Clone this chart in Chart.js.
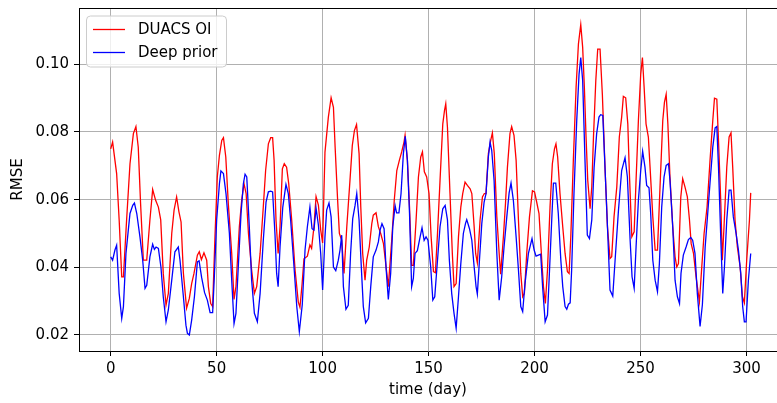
<!DOCTYPE html>
<html>
<head>
<meta charset="utf-8">
<script src="https://cdn.jsdelivr.net/npm/chart.js@4.4.1/dist/chart.umd.min.js"></script>
<style>
    html, body { margin: 0; padding: 0; background: #ffffff; }
    #wrap { width: 777px; height: 403px; }
</style>
</head>
<body>
<div id="wrap"><canvas id="rmse-chart" width="777" height="403"></canvas></div>
<script>
// RMSE per day, DUACS OI
var duacsDays = [0, 0.9, 2.8, 4.0, 5.2, 6.0, 7.5, 9.1, 10.7, 11.9, 13.0, 14.1, 15.4, 17.0, 18.5, 19.8, 21.2, 22.5, 23.6, 24.8,
    26.1, 27.2, 28.8, 29.9, 31.1, 32.2, 33.2, 34.3, 35.8, 37.1, 38.2, 39.3, 40.9, 41.8, 42.8, 44.0, 45.3, 46.1, 47.2, 48.1,
    49.2, 50.3, 51.3, 52.4, 53.2, 54.3, 55.5, 57.1, 58.2, 59.1, 60.7, 61.8, 62.9, 63.9, 65.0, 66.5, 67.8, 68.9, 70.5, 72.0,
    73.1, 74.4, 75.5, 76.4, 77.1, 78.0, 79.0, 79.9, 81.0, 81.9, 83.0, 84.0, 85.4, 87.0, 88.5, 89.3, 90.3, 91.2, 92.8, 94.0,
    94.8, 95.9, 96.9, 98.0, 99.1, 100.0, 101.1, 102.7, 104.0, 105.1, 105.9, 107.0, 107.9, 109.0, 110.1, 111.4, 112.9, 114.0, 115.0, 116.0,
    117.2, 118.0, 118.9, 120.0, 120.8, 122.0, 123.2, 123.9, 125.2, 126.3, 127.4, 128.7, 131.0, 132.6, 133.8, 135.0, 136.2, 137.3, 138.4, 138.9,
    140.0, 141.0, 142.0, 142.8, 144.1, 145.2, 146.3, 147.1, 148.0, 149.1, 150.2, 151.2, 152.3, 153.2, 154.2, 155.4, 156.7, 157.5, 158.1, 158.9,
    160.1, 161.2, 162.0, 163.0, 164.1, 165.2, 166.1, 167.2, 168.3, 169.6, 170.4, 171.5, 172.2, 173.0, 174.3, 175.4, 176.3, 177.1, 178.2, 179.3,
    180.1, 181.0, 182.2, 183.3, 184.0, 185.3, 186.3, 187.2, 188.4, 189.2, 190.3, 191.3, 192.4, 193.5, 194.4, 195.2, 196.3, 197.6, 199.0, 200.0,
    201.0, 202.1, 203.4, 204.2, 205.1, 206.1, 207.3, 208.4, 209.4, 210.1, 210.9, 212.0, 213.3, 214.4, 215.5, 216.3, 217.1, 218.3, 219.6, 220.7,
    221.8, 222.7, 223.5, 224.3, 225.1, 226.2, 227.0, 227.8, 228.9, 229.8, 230.9, 232.0, 233.3, 234.4, 235.6, 236.4, 237.5, 238.8, 240.0, 241.1,
    241.9, 243.0, 244.0, 244.7, 245.9, 247.0, 247.9, 249.0, 250.1, 250.9, 251.7, 252.6, 253.7, 254.5, 255.8, 256.9, 258.0, 259.2, 260.5, 261.3,
    262.1, 262.9, 263.9, 265.2, 266.3, 267.1, 267.9, 269.0, 269.9, 271.0, 272.1, 273.1, 273.9, 275.0, 276.2, 277.8, 278.9, 280.0, 281.4, 282.8,
    284.1, 284.9, 286.0, 286.8, 287.9, 288.6, 289.4, 290.7, 291.8, 292.7, 293.5, 294.6, 295.7, 297.0, 298.1, 299.0, 300.1, 301.4, 302.0];
var duacsRmse = [0.0750, 0.0770, 0.0677, 0.0539, 0.0372, 0.0372, 0.0540, 0.0706, 0.0795, 0.0816, 0.0755, 0.0588, 0.0421, 0.0421, 0.0540, 0.0630, 0.0598, 0.0578, 0.0540, 0.0382,
    0.0288, 0.0323, 0.0500, 0.0569, 0.0608, 0.0564, 0.0534, 0.0382, 0.0279, 0.0308, 0.0352, 0.0382, 0.0436, 0.0446, 0.0423, 0.0443, 0.0421, 0.0343, 0.0293, 0.0284,
    0.0490, 0.0667, 0.0731, 0.0775, 0.0783, 0.0726, 0.0588, 0.0441, 0.0305, 0.0343, 0.0520, 0.0598, 0.0647, 0.0618, 0.0500, 0.0392, 0.0323, 0.0343, 0.0441, 0.0578,
    0.0686, 0.0765, 0.0783, 0.0783, 0.0716, 0.0540, 0.0441, 0.0520, 0.0691, 0.0706, 0.0696, 0.0647, 0.0540, 0.0392, 0.0298, 0.0282, 0.0350, 0.0425, 0.0433, 0.0466,
    0.0456, 0.0520, 0.0609, 0.0584, 0.0510, 0.0472, 0.0740, 0.0844, 0.0901, 0.0873, 0.0755, 0.0608, 0.0500, 0.0480, 0.0382, 0.0520, 0.0657, 0.0760, 0.0804, 0.0822,
    0.0736, 0.0578, 0.0441, 0.0362, 0.0421, 0.0460, 0.0529, 0.0554, 0.0561, 0.0520, 0.0500, 0.0470, 0.0343, 0.0480, 0.0598, 0.0686, 0.0716, 0.0741, 0.0770, 0.0790,
    0.0716, 0.0578, 0.0406, 0.0406, 0.0540, 0.0667, 0.0726, 0.0741, 0.0682, 0.0667, 0.0618, 0.0490, 0.0387, 0.0384, 0.0500, 0.0657, 0.0824, 0.0863, 0.0883, 0.0814,
    0.0618, 0.0441, 0.0343, 0.0352, 0.0490, 0.0578, 0.0618, 0.0652, 0.0642, 0.0632, 0.0618, 0.0520, 0.0441, 0.0413, 0.0540, 0.0608, 0.0618, 0.0618, 0.0736, 0.0775,
    0.0797, 0.0736, 0.0549, 0.0441, 0.0380, 0.0490, 0.0590, 0.0696, 0.0795, 0.0816, 0.0790, 0.0716, 0.0540, 0.0382, 0.0313, 0.0323, 0.0441, 0.0549, 0.0626, 0.0623,
    0.0593, 0.0559, 0.0421, 0.0343, 0.0293, 0.0392, 0.0578, 0.0706, 0.0750, 0.0765, 0.0726, 0.0618, 0.0520, 0.0441, 0.0387, 0.0382, 0.0490, 0.0716, 0.0932, 0.1060,
    0.1117, 0.1050, 0.0932, 0.0785, 0.0657, 0.0573, 0.0637, 0.0785, 0.0952, 0.1045, 0.1045, 0.0910, 0.0686, 0.0520, 0.0426, 0.0431, 0.0549, 0.0637, 0.0785, 0.0844,
    0.0905, 0.0901, 0.0824, 0.0686, 0.0490, 0.0505, 0.0657, 0.0834, 0.0971, 0.1020, 0.0932, 0.0824, 0.0785, 0.0696, 0.0549, 0.0451, 0.0451, 0.0637, 0.0834, 0.0888,
    0.0911, 0.0824, 0.0667, 0.0520, 0.0431, 0.0401, 0.0411, 0.0608, 0.0662, 0.0637, 0.0608, 0.0540, 0.0470, 0.0441, 0.0372, 0.0298, 0.0401, 0.0500, 0.0578, 0.0716,
    0.0834, 0.0900, 0.0897, 0.0775, 0.0588, 0.0421, 0.0520, 0.0696, 0.0785, 0.0797, 0.0696, 0.0540, 0.0460, 0.0401, 0.0313, 0.0295, 0.0421, 0.0540, 0.0620];

// RMSE per day, Deep prior
var priorDays = [0, 0.9, 2.0, 2.8, 4.0, 5.2, 6.0, 7.2, 9.1, 10.4, 11.2, 12.3, 13.8, 15.1, 16.2, 17.0, 18.5, 19.8, 20.6, 21.4,
    22.5, 23.7, 24.8, 26.1, 27.2, 28.8, 30.3, 31.9, 32.7, 34.3, 35.5, 36.2, 37.1, 38.2, 39.5, 40.9, 41.7, 42.9, 44.3, 45.6,
    46.9, 48.1, 48.9, 50.0, 51.3, 52.0, 53.2, 54.4, 56.0, 57.1, 58.2, 59.1, 60.2, 61.5, 62.6, 63.4, 64.2, 65.4, 66.5, 67.8,
    69.2, 70.5, 72.0, 73.3, 74.4, 75.5, 76.4, 77.5, 78.3, 79.0, 79.9, 81.2, 82.7, 83.8, 84.9, 86.5, 87.8, 89.0, 90.4, 91.7,
    92.8, 94.0, 95.0, 95.9, 96.9, 98.0, 99.1, 100.0, 101.1, 101.9, 103.0, 104.0, 105.1, 106.2, 107.4, 108.2, 109.0, 109.8, 111.0, 112.1,
    113.2, 114.2, 115.3, 116.1, 117.2, 118.4, 119.2, 120.3, 121.6, 122.7, 123.9, 125.2, 126.3, 127.1, 128.0, 129.0, 129.9, 131.0, 132.1, 133.1,
    134.2, 134.9, 136.0, 137.0, 138.1, 139.0, 140.0, 141.0, 142.0, 142.8, 143.6, 144.7, 146.0, 146.9, 147.9, 148.8, 149.7, 151.0, 152.0, 152.9,
    154.2, 155.4, 156.7, 157.8, 158.9, 159.8, 160.9, 162.0, 163.0, 164.1, 165.2, 166.4, 167.4, 168.0, 169.3, 170.4, 171.5, 172.4, 173.0, 174.0,
    175.1, 176.2, 177.1, 178.2, 179.0, 179.8, 180.9, 182.2, 183.3, 184.5, 185.6, 186.9, 188.0, 188.9, 190.0, 191.3, 192.4, 193.5, 194.4, 195.5,
    197.1, 198.8, 199.8, 200.7, 201.8, 202.9, 203.8, 205.0, 206.1, 207.0, 208.1, 208.9, 210.0, 211.2, 212.4, 213.3, 214.4, 215.2, 216.0, 216.8,
    217.5, 218.6, 219.9, 221.0, 221.8, 222.7, 223.8, 224.9, 225.9, 227.0, 228.1, 229.3, 230.4, 231.2, 232.2, 233.3, 234.4, 235.6, 236.9, 238.0,
    239.6, 241.1, 242.7, 243.8, 245.1, 246.0, 247.0, 247.9, 249.0, 250.1, 251.0, 252.1, 252.9, 254.0, 254.8, 255.8, 256.9, 258.0, 258.9, 260.0,
    261.1, 262.1, 263.2, 263.9, 265.2, 266.3, 267.4, 268.4, 269.1, 270.2, 271.5, 272.6, 273.7, 274.6, 275.7, 276.8, 278.1, 279.2, 280.5, 281.6,
    282.8, 284.1, 285.2, 286.0, 286.8, 287.9, 288.8, 289.6, 290.7, 291.8, 292.7, 293.8, 295.1, 296.2, 297.3, 298.2, 299.0, 299.8, 300.9, 302.0];
var priorRmse = [0.0431, 0.0421, 0.0451, 0.0465, 0.0323, 0.0249, 0.0284, 0.0441, 0.0559, 0.0583, 0.0590, 0.0559, 0.0490, 0.0421, 0.0338, 0.0347, 0.0431, 0.0468, 0.0453, 0.0460,
    0.0456, 0.0401, 0.0313, 0.0239, 0.0274, 0.0362, 0.0446, 0.0460, 0.0421, 0.0313, 0.0229, 0.0205, 0.0200, 0.0244, 0.0313, 0.0416, 0.0419, 0.0370, 0.0325, 0.0303,
    0.0266, 0.0266, 0.0372, 0.0540, 0.0647, 0.0685, 0.0677, 0.0618, 0.0500, 0.0362, 0.0234, 0.0264, 0.0401, 0.0559, 0.0647, 0.0675, 0.0667, 0.0520, 0.0362, 0.0264,
    0.0239, 0.0323, 0.0480, 0.0593, 0.0623, 0.0625, 0.0623, 0.0500, 0.0382, 0.0343, 0.0460, 0.0578, 0.0645, 0.0618, 0.0540, 0.0401, 0.0284, 0.0210, 0.0290, 0.0451,
    0.0520, 0.0578, 0.0514, 0.0510, 0.0575, 0.0525, 0.0440, 0.0333, 0.0490, 0.0569, 0.0590, 0.0549, 0.0401, 0.0390, 0.0421, 0.0451, 0.0495, 0.0343, 0.0276, 0.0288,
    0.0441, 0.0544, 0.0583, 0.0618, 0.0540, 0.0382, 0.0284, 0.0236, 0.0249, 0.0343, 0.0431, 0.0451, 0.0475, 0.0510, 0.0529, 0.0514, 0.0401, 0.0305, 0.0382, 0.0520,
    0.0582, 0.0561, 0.0561, 0.0618, 0.0736, 0.0787, 0.0716, 0.0559, 0.0343, 0.0367, 0.0441, 0.0449, 0.0490, 0.0517, 0.0480, 0.0490, 0.0480, 0.0401, 0.0303, 0.0313,
    0.0421, 0.0520, 0.0573, 0.0583, 0.0540, 0.0421, 0.0323, 0.0264, 0.0220, 0.0313, 0.0411, 0.0500, 0.0529, 0.0541, 0.0514, 0.0480, 0.0401, 0.0343, 0.0321, 0.0421,
    0.0529, 0.0593, 0.0618, 0.0726, 0.0770, 0.0745, 0.0657, 0.0441, 0.0303, 0.0372, 0.0460, 0.0549, 0.0620, 0.0649, 0.0598, 0.0490, 0.0392, 0.0284, 0.0269, 0.0352,
    0.0441, 0.0485, 0.0451, 0.0433, 0.0436, 0.0439, 0.0343, 0.0239, 0.0259, 0.0382, 0.0540, 0.0649, 0.0649, 0.0559, 0.0421, 0.0343, 0.0284, 0.0276, 0.0291, 0.0295,
    0.0392, 0.0618, 0.0834, 0.0971, 0.1020, 0.0952, 0.0716, 0.0495, 0.0485, 0.0540, 0.0696, 0.0795, 0.0844, 0.0851, 0.0849, 0.0686, 0.0520, 0.0333, 0.0315, 0.0421,
    0.0569, 0.0686, 0.0724, 0.0667, 0.0480, 0.0372, 0.0338, 0.0460, 0.0598, 0.0686, 0.0743, 0.0696, 0.0642, 0.0635, 0.0559, 0.0421, 0.0362, 0.0328, 0.0411, 0.0578,
    0.0667, 0.0701, 0.0706, 0.0657, 0.0520, 0.0362, 0.0313, 0.0293, 0.0382, 0.0436, 0.0460, 0.0482, 0.0488, 0.0480, 0.0441, 0.0323, 0.0225, 0.0290, 0.0460, 0.0550,
    0.0650, 0.0755, 0.0812, 0.0816, 0.0696, 0.0480, 0.0323, 0.0401, 0.0540, 0.0628, 0.0628, 0.0549, 0.0500, 0.0451, 0.0382, 0.0284, 0.0239, 0.0239, 0.0362, 0.0441];

var xTicks = [0, 50, 100, 150, 200, 250, 300];
var yTicks = [0.02, 0.04, 0.06, 0.08, 0.10];

function toPoints(days, values) {
    return days.map(function(d, i) {
        return { x: d, y: values[i] };
    });
}

(function() {
    'use strict';

    var FONT = 'DejaVu Sans';
    Chart.defaults.font.family = FONT;
    Chart.defaults.font.size = 15;
    Chart.defaults.color = '#000000';

    // Top frame line and the boxed legend in the upper left corner
    var framePlugin = {
        id: 'frameAndLegend',
        afterDraw: function(chart) {
            var ctx = chart.ctx;
            var area = chart.chartArea;

            ctx.save();
            ctx.strokeStyle = '#000000';
            ctx.lineWidth = 1;
            ctx.beginPath();
            ctx.moveTo(area.left, area.top + 0.5);
            ctx.lineTo(area.right, area.top + 0.5);
            ctx.stroke();

            // legend box
            var bx = 86.5, by = 16, bw = 140, bh = 51, r = 4;
            ctx.beginPath();
            ctx.moveTo(bx + r, by);
            ctx.arcTo(bx + bw, by, bx + bw, by + bh, r);
            ctx.arcTo(bx + bw, by + bh, bx, by + bh, r);
            ctx.arcTo(bx, by + bh, bx, by, r);
            ctx.arcTo(bx, by, bx + bw, by, r);
            ctx.closePath();
            ctx.fillStyle = 'rgba(255, 255, 255, 0.8)';
            ctx.fill();
            ctx.strokeStyle = '#cccccc';
            ctx.lineWidth = 1;
            ctx.stroke();

            ctx.font = '15px "' + FONT + '"';
            ctx.textBaseline = 'middle';
            ctx.textAlign = 'left';
            chart.data.datasets.forEach(function(ds, i) {
                var y = 29.5 + i * 23;
                ctx.strokeStyle = ds.borderColor;
                ctx.lineWidth = ds.borderWidth;
                ctx.beginPath();
                ctx.moveTo(93, y);
                ctx.lineTo(125, y);
                ctx.stroke();
                ctx.fillStyle = '#000000';
                ctx.fillText(ds.label, 138, y + 1);
            });
            ctx.restore();
        }
    };

    var ctx = document.getElementById('rmse-chart').getContext('2d');

    new Chart(ctx, {
        type: 'line',
        data: {
            datasets: [
                {
                    label: 'DUACS OI',
                    data: toPoints(duacsDays, duacsRmse),
                    borderColor: '#ff0000',
                    borderWidth: 1.3,
                    pointRadius: 0,
                    tension: 0,
                    order: 1
                },
                {
                    label: 'Deep prior',
                    data: toPoints(priorDays, priorRmse),
                    borderColor: '#0000ff',
                    borderWidth: 1.3,
                    pointRadius: 0,
                    tension: 0,
                    order: 0
                }
            ]
        },
        options: {
            responsive: false,
            animation: false,
            devicePixelRatio: 1,
            layout: {
                padding: { top: 8, right: 0, bottom: 0, left: 0 }
            },
            plugins: {
                legend: { display: false },
                tooltip: { enabled: false }
            },
            scales: {
                x: {
                    type: 'linear',
                    min: -14.96,
                    max: 314.4,
                    afterBuildTicks: function(scale) {
                        scale.ticks = xTicks.map(function(v) { return { value: v }; });
                    },
                    afterFit: function(scale) {
                        scale.height = 52;
                        scale.paddingLeft = 0;
                        scale.paddingRight = 0;
                    },
                    grid: {
                        color: '#b0b0b0',
                        lineWidth: 1,
                        tickColor: '#000000',
                        tickLength: 5
                    },
                    border: { color: '#000000', width: 1 },
                    ticks: {
                        padding: 4,
                        maxRotation: 0,
                        callback: function(value) { return String(value); }
                    },
                    title: {
                        display: true,
                        text: 'time (day)',
                        padding: { top: 0, bottom: 4 }
                    }
                },
                y: {
                    type: 'linear',
                    min: 0.01527,
                    max: 0.11663,
                    afterBuildTicks: function(scale) {
                        scale.ticks = yTicks.map(function(v) { return { value: v }; });
                    },
                    afterFit: function(scale) {
                        // tick labels sit well inside the axis, no extra room needed
                        scale.width = 79;
                        scale.paddingTop = 0;
                        scale.paddingBottom = 0;
                    },
                    grid: {
                        color: '#b0b0b0',
                        lineWidth: 1,
                        tickColor: '#000000',
                        tickLength: 5
                    },
                    border: { color: '#000000', width: 1 },
                    ticks: {
                        padding: 5,
                        callback: function(value) { return value.toFixed(2); }
                    },
                    title: {
                        display: true,
                        text: 'RMSE',
                        padding: { top: 9, bottom: 0 }
                    }
                }
            }
        },
        plugins: [framePlugin]
    });
})();
</script>
</body>
</html>
